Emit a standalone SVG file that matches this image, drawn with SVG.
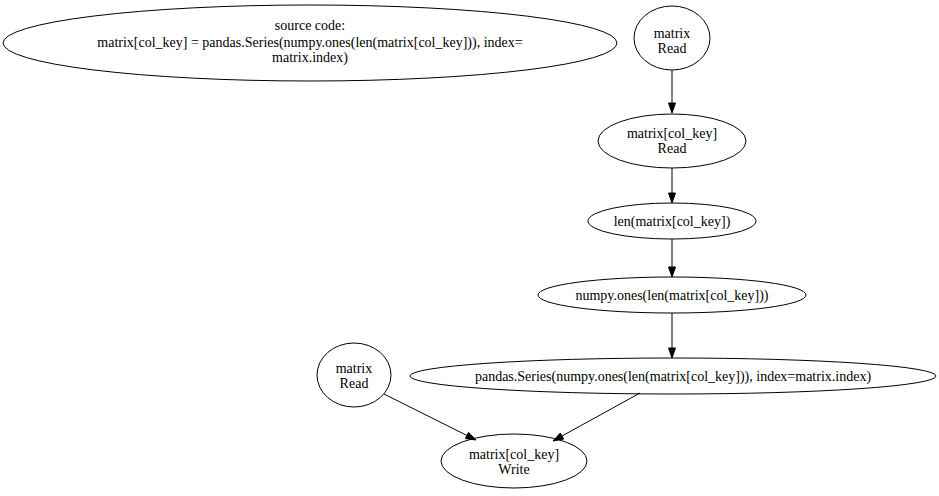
<svg xmlns="http://www.w3.org/2000/svg" width="939" height="496" viewBox="0 0 939 496">
<style>
.n ellipse{fill:none;stroke:#000;stroke-width:1}
text{font-family:"Liberation Serif","Times New Roman",serif;font-size:14px;fill:#000;text-anchor:middle}
.e line{stroke:#000;stroke-width:1}
.e polygon{fill:#000;stroke:#000;stroke-width:1}
</style>
<rect width="939" height="496" fill="#fff"/>
<g id="src" class="n">
<ellipse cx="310" cy="43" rx="307" ry="38"/>
<text x="310" y="30">source code:</text>
<text x="310" y="47">matrix[col_key] = pandas.Series(numpy.ones(len(matrix[col_key])), index=</text>
<text x="310" y="62">matrix.index)</text>
</g>
<g id="matrix_read_1" class="n">
<ellipse cx="672" cy="38" rx="38" ry="32"/>
<text x="672" y="38">matrix</text>
<text x="672" y="53">Read</text>
</g>
<g id="col_read" class="n">
<ellipse cx="672" cy="141" rx="74" ry="27"/>
<text x="672" y="138">matrix[col_key]</text>
<text x="672" y="153">Read</text>
</g>
<g id="len" class="n">
<ellipse cx="672" cy="221" rx="84" ry="18"/>
<text x="672" y="226">len(matrix[col_key])</text>
</g>
<g id="ones" class="n">
<ellipse cx="672" cy="295" rx="134" ry="18"/>
<text x="672" y="300">numpy.ones(len(matrix[col_key]))</text>
</g>
<g id="series" class="n">
<ellipse cx="673" cy="376" rx="263" ry="18"/>
<text x="673" y="381">pandas.Series(numpy.ones(len(matrix[col_key])), index=matrix.index)</text>
</g>
<g id="matrix_read_2" class="n">
<ellipse cx="354" cy="375" rx="37" ry="32"/>
<text x="354" y="373">matrix</text>
<text x="354" y="388">Read</text>
</g>
<g id="col_write" class="n">
<ellipse cx="514" cy="461" rx="73" ry="27"/>
<text x="514" y="459">matrix[col_key]</text>
<text x="514" y="474">Write</text>
</g>
<g id="edges" class="e">
<line x1="672" y1="70" x2="672" y2="103"/>
<polygon points="668.5,103 675.5,103 672,113"/>
<line x1="672" y1="168" x2="672" y2="193"/>
<polygon points="668.5,193 675.5,193 672,203"/>
<line x1="672" y1="239" x2="672" y2="267"/>
<polygon points="668.5,267 675.5,267 672,277"/>
<line x1="672" y1="313" x2="672" y2="348"/>
<polygon points="668.5,348 675.5,348 672,358"/>
<line x1="384" y1="394" x2="467" y2="435.5"/>
<polygon points="465.4,438.6 468.6,432.4 476,440"/>
<line x1="640" y1="393" x2="562" y2="436"/>
<polygon points="560.3,433 563.7,439 553,441"/>
</g>
</svg>
